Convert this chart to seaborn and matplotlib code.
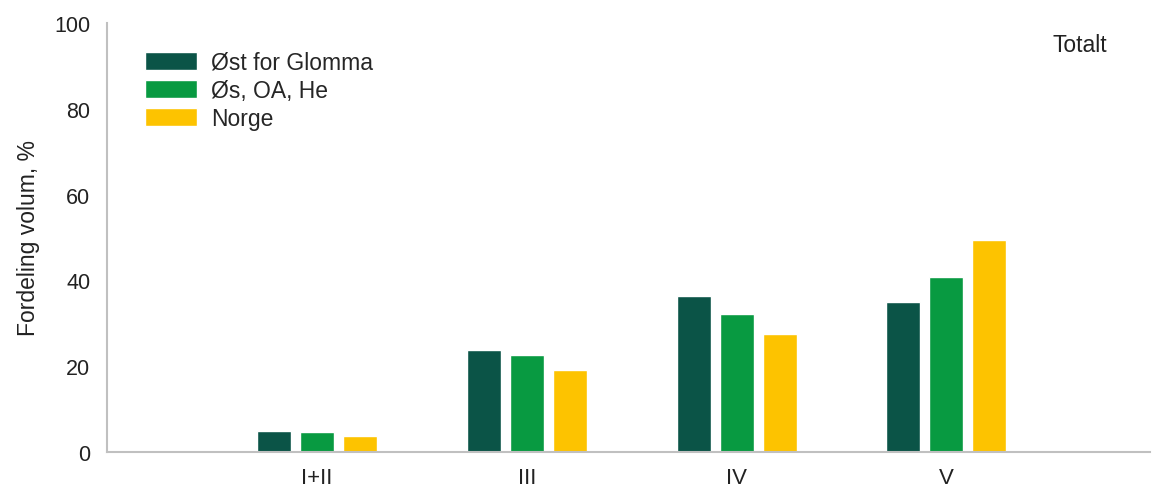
import matplotlib
matplotlib.use("Agg")
import matplotlib.pyplot as plt
import seaborn as sns
import pandas as pd

categories = ["I+II", "III", "IV", "V"]
series_names = ["Øst for Glomma", "Øs, OA, He", "Norge"]
ost_for_glomma = [4.9, 23.8, 36.3, 35.0]
os_oa_he = [4.6, 22.5, 32.2, 40.8]
norge = [3.7, 19.2, 27.6, 49.4]
colors = ["#0b5447", "#089a41", "#fdc300"]

rows = []
for name, vals in zip(series_names, [ost_for_glomma, os_oa_he, norge]):
    for c, v in zip(categories, vals):
        rows.append({"Klasse": c, "Serie": name, "Verdi": v})
df = pd.DataFrame(rows)

sns.set_style("white")
plt.rcParams["font.family"] = ["Liberation Sans", "DejaVu Sans"]

fig = plt.figure(figsize=(11.52, 4.89), dpi=100)
ax = fig.add_axes([107/1152, 1-453/489, (1150-107)/1152, (453-24)/489])

sns.barplot(data=df, x="Klasse", y="Verdi", hue="Serie", order=categories,
            hue_order=series_names, palette=colors, width=0.615, gap=0.21,
            saturation=1, ax=ax, errorbar=None)

ax.set_xlim(-1.0, 3.97)
ax.set_ylim(0, 100)
ax.set_yticks([0, 20, 40, 60, 80, 100])
ax.set_xlabel("")
ax.set_ylabel("Fordeling volum, %", fontsize=16.5, color="#222222", labelpad=10)
ax.tick_params(axis="y", direction="in", length=8, width=1.3, color="#c0c0c0",
               labelsize=15.5, pad=12, labelcolor="#222222")
ax.tick_params(axis="x", length=0, labelsize=16, pad=11, labelcolor="#222222")

for side in ["top", "right"]:
    ax.spines[side].set_visible(False)
for side in ["left", "bottom"]:
    ax.spines[side].set_color("#c0c0c0")
    ax.spines[side].set_linewidth(1.5)

leg = ax.legend(loc="upper left", bbox_to_anchor=(0.036, 0.935), frameon=False,
                fontsize=16.5, handlelength=2.31, handleheight=0.79,
                handletextpad=0.61, labelspacing=0.22, borderpad=0, borderaxespad=0)

ax.text(1107/1152, 1-46/489, "Totalt", transform=fig.transFigure, ha="right",
        va="center", fontsize=16.5, color="#222222")

fig.savefig("out.png", dpi=100)
